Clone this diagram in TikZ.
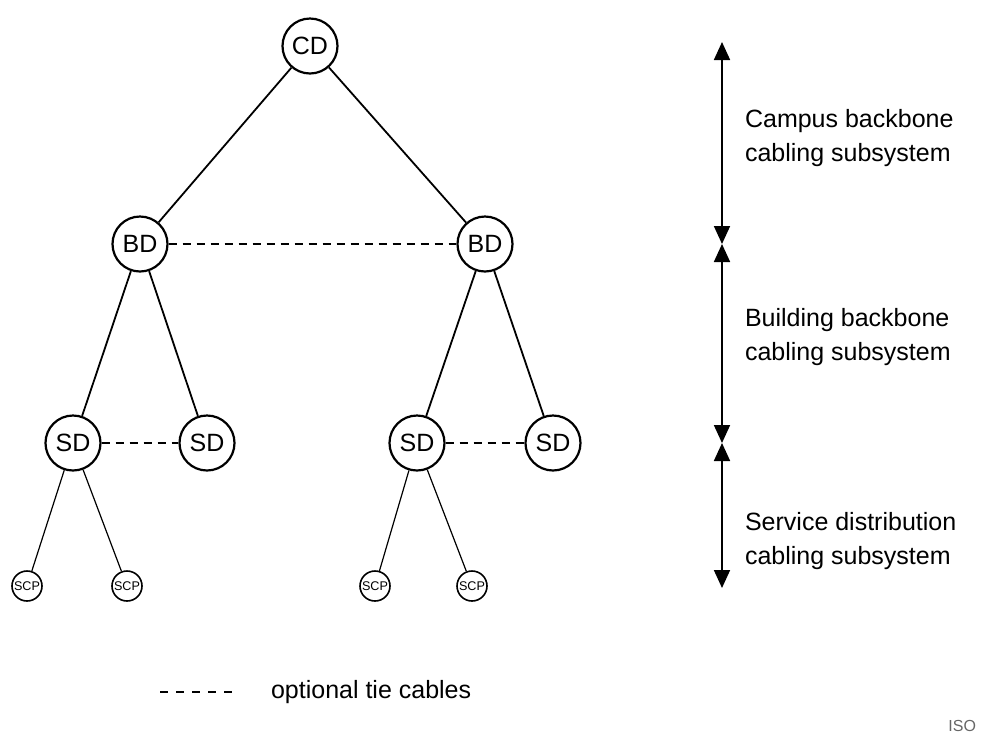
\documentclass[tikz,border=0pt]{standalone}
\usepackage{fontspec}
\setmainfont{Liberation Sans}
\usetikzlibrary{arrows.meta}
\begin{document}
\begin{tikzpicture}[x=0.5pt,y=-0.5pt,
  big/.style={circle,draw,line width=1.1pt,minimum size=27.5pt,inner sep=0pt,font=\fontsize{12.5}{14}\selectfont},
  small/.style={circle,draw,line width=0.8pt,minimum size=15pt,inner sep=0pt,font=\fontsize{6.3}{7}\selectfont},
  link/.style={line width=0.9pt},
  thin/.style={line width=0.6pt},
  tie/.style={line width=0.9pt,dash pattern=on 4pt off 3pt},
  dim/.style={line width=0.9pt,{Triangle[length=9pt,width=8pt]}-{Triangle[length=9pt,width=8pt]}},
  lab/.style={anchor=west,align=left,font=\fontsize{12.5}{17}\selectfont}]
\useasboundingbox (0,0) rectangle (981,736);
\node[big] (cd) at (310,46) {CD};
\node[big] (bd1) at (140,244) {BD};
\node[big] (bd2) at (485,244) {BD};
\node[big] (sd1) at (73,443) {SD};
\node[big] (sd2) at (207,443) {SD};
\node[big] (sd3) at (417,443) {SD};
\node[big] (sd4) at (553,443) {SD};
\node[small] (scp1) at (27,586) {SCP};
\node[small] (scp2) at (127,586) {SCP};
\node[small] (scp3) at (375,586) {SCP};
\node[small] (scp4) at (472,586) {SCP};
\draw[link] (cd) -- (bd1);
\draw[link] (cd) -- (bd2);
\draw[link] (bd1) -- (sd1);
\draw[link] (bd1) -- (sd2);
\draw[link] (bd2) -- (sd3);
\draw[link] (bd2) -- (sd4);
\draw[thin] (sd1) -- (scp1);
\draw[thin] (sd1) -- (scp2);
\draw[thin] (sd3) -- (scp3);
\draw[thin] (sd3) -- (scp4);
\draw[tie] (bd1) -- (bd2);
\draw[tie] (sd1) -- (sd2);
\draw[tie] (sd3) -- (sd4);
\coordinate (a0) at (722,42);
\coordinate (a1) at (722,244);
\coordinate (a2) at (722,443);
\coordinate (a3) at (722,588);
\draw[dim] (a0) -- (a1);
\draw[dim] (a1) -- (a2);
\draw[dim] (a2) -- (a3);
\node[lab] (t1) at (738,138) {Campus backbone\\cabling subsystem};
\node[lab] (t2) at (738,337) {Building backbone\\cabling subsystem};
\node[lab] (t3) at (738,541) {Service distribution\\cabling subsystem};
\coordinate (l0) at (160,692);
\coordinate (l1) at (234,692);
\draw[line width=0.7pt,dash pattern=on 4pt off 4pt] (l0) -- (l1);
\node[lab,font=\fontsize{12.5}{15}\selectfont] (leg) at (264,692) {optional tie cables};
\node[anchor=north west,inner sep=0pt,font=\fontsize{8}{9}\selectfont,text=black!60] (iso) at (948,720) {ISO};
\end{tikzpicture}
\end{document}
